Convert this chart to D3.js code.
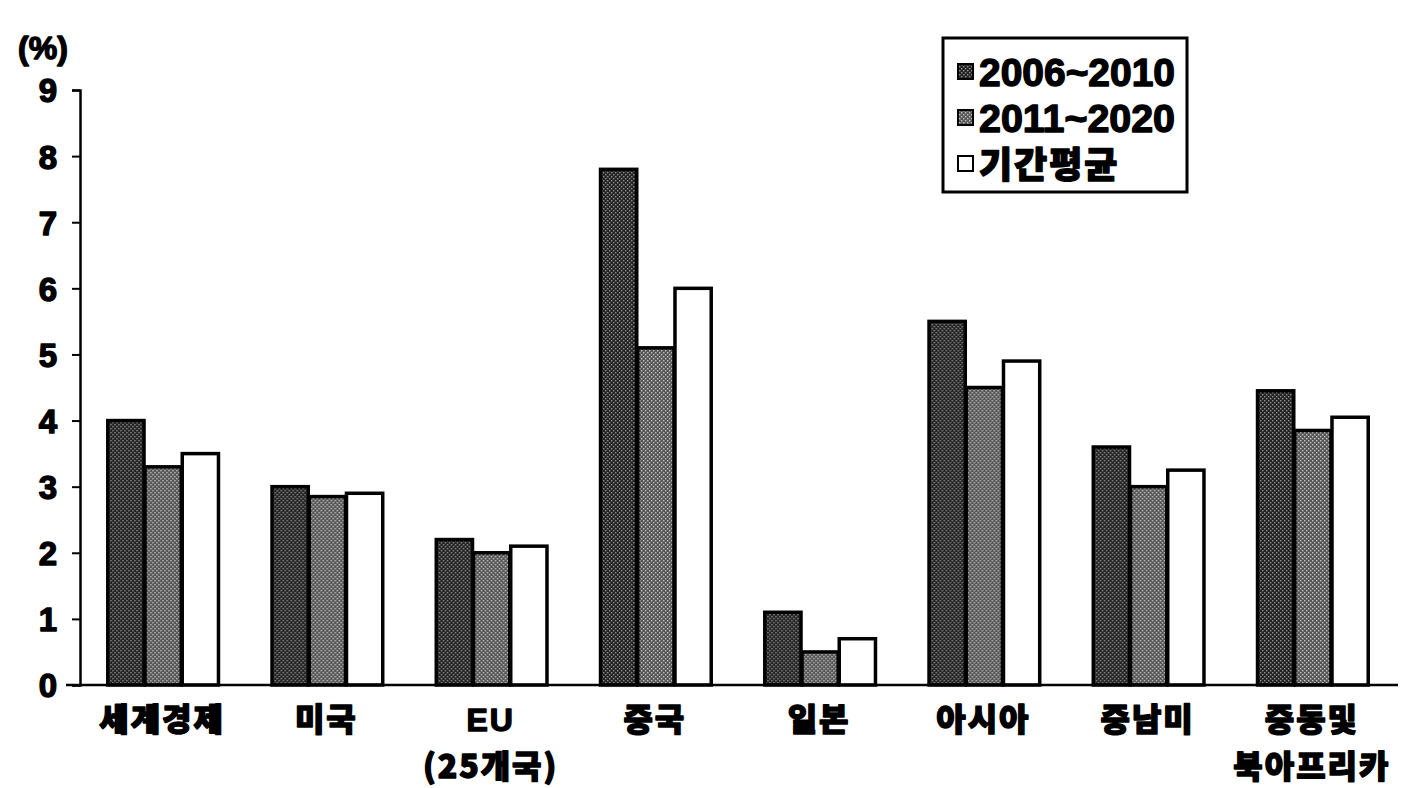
<!DOCTYPE html>
<html>
<head>
<meta charset="utf-8">
<script src="https://cdn.jsdelivr.net/npm/d3@7"></script>
<style>
  html, body { margin: 0; padding: 0; background: #fff; }
  svg { display: block; }
  text { font-family: "Liberation Sans", "Noto Sans CJK KR", sans-serif; font-weight: bold; fill: #000; stroke: #000; stroke-width: 1.4; stroke-linejoin: round; }
  .kr { font-family: "Noto Sans CJK KR", "Liberation Sans", sans-serif; font-weight: 900; }
</style>
</head>
<body>
<svg id="chart" width="1410" height="788"></svg>
<script>
// Regional growth rates (%)
const categories = [["세계경제"], ["미국"], ["EU", "(25개국)"], ["중국"], ["일본"], ["아시아"], ["중남미"], ["중동및", "북아프리카"]];
const seriesNames = ["2006~2010", "2011~2020", "기간평균"];
const values2006_2010 = [4.0, 3.0, 2.2, 7.8, 1.1, 5.5, 3.6, 4.45];
const values2011_2020 = [3.3, 2.85, 2.0, 5.1, 0.5, 4.5, 3.0, 3.85];
const valuesAverage   = [3.5, 2.9, 2.1, 6.0, 0.7, 4.9, 3.25, 4.05];
const yTicks = [0, 1, 2, 3, 4, 5, 6, 7, 8, 9];

const series = [values2006_2010, values2011_2020, valuesAverage];
const svg = d3.select("#chart");

// Halftone-like fills for the two shaded series
const defs = svg.append("defs");
function halftone(id, bg, dot) {
  const p = defs.append("pattern").attr("id", id).attr("patternUnits", "userSpaceOnUse")
    .attr("width", 4).attr("height", 4);
  p.append("rect").attr("width", 4).attr("height", 4).attr("fill", bg);
  p.append("rect").attr("x", 0).attr("y", 0).attr("width", 1.4).attr("height", 1.4).attr("fill", dot);
  p.append("rect").attr("x", 2).attr("y", 2).attr("width", 1.4).attr("height", 1.4).attr("fill", dot);
}
halftone("darkFill", "#222222", "#8f8f8f");
halftone("midFill", "#555555", "#c4c4c4");
const fills = ["url(#darkFill)", "url(#midFill)", "#ffffff"];

const x0 = d3.scaleBand().domain(d3.range(categories.length)).range([80, 1394])
  .paddingInner(0.32).paddingOuter(0.16);
const x1 = d3.scaleBand().domain(d3.range(series.length)).range([0, x0.bandwidth()]);
const y = d3.scaleLinear().domain([0, 9]).range([685, 90]);

// Bars
const groups = svg.append("g").selectAll("g").data(categories).join("g")
  .attr("transform", (d, i) => `translate(${x0(i)},0)`);
groups.selectAll("rect").data((d, i) => series.map((s, k) => ({ k, v: s[i] }))).join("rect")
  .attr("x", d => x1(d.k) + 1.5)
  .attr("width", x1.bandwidth() - 1)
  .attr("y", d => y(d.v))
  .attr("height", d => y(0) - y(d.v))
  .attr("fill", d => fills[d.k])
  .attr("stroke", "#000")
  .attr("stroke-width", 3.5);

// Y axis
const yAxis = svg.append("g").attr("transform", "translate(80,0)")
  .call(d3.axisLeft(y).tickValues(yTicks).tickSize(8).tickPadding(15).tickFormat(d3.format("d")));
yAxis.select(".domain").attr("stroke", "#000").attr("stroke-width", 2.5);
yAxis.selectAll(".tick line").attr("stroke", "#000").attr("stroke-width", 2);
yAxis.selectAll(".tick text").attr("font-size", 33).attr("font-weight", "bold")
  .attr("font-family", "'Liberation Sans', sans-serif").attr("fill", "#000").attr("dy", "0.36em");

// Baseline
svg.append("line").attr("x1", 66).attr("x2", 1398).attr("y1", y(0)).attr("y2", y(0))
  .attr("stroke", "#000").attr("stroke-width", 2.5);

// Unit label
svg.append("text").attr("x", 43).attr("y", 59).attr("text-anchor", "middle")
  .attr("font-size", 32).text("(%)");

// Category labels
const xl = svg.append("g");
categories.forEach((lines, i) => {
  const cx = x0(i) + x0.bandwidth() / 2;
  lines.forEach((t, j) => {
    xl.append("text").attr("class", /[가-힣]/.test(t) ? "kr" : "")
      .attr("x", cx).attr("y", 731 + j * 47).attr("text-anchor", "middle")
      .attr("font-size", 32).attr("letter-spacing", 2).text(t);
  });
});

// Legend
const lg = svg.append("g").attr("transform", "translate(943,38)");
lg.append("rect").attr("width", 244).attr("height", 154).attr("fill", "#fff")
  .attr("stroke", "#000").attr("stroke-width", 3).style("stroke-width", 3);
seriesNames.forEach((name, k) => {
  const cy = 34 + k * 46;
  lg.append("rect").attr("x", 15).attr("y", cy - 8).attr("width", 15).attr("height", 15)
    .attr("fill", fills[k]).attr("stroke", "#000").attr("stroke-width", 2);
  lg.append("text").attr("class", k === 2 ? "kr" : "")
    .attr("x", 36).attr("y", cy + 14)
    .attr("font-size", k === 2 ? 36 : 39)
    .attr("letter-spacing", k === 2 ? 2 : 0)
    .attr("textLength", k === 2 ? null : 196)
    .attr("lengthAdjust", "spacingAndGlyphs")
    .text(name);
});
</script>
</body>
</html>
